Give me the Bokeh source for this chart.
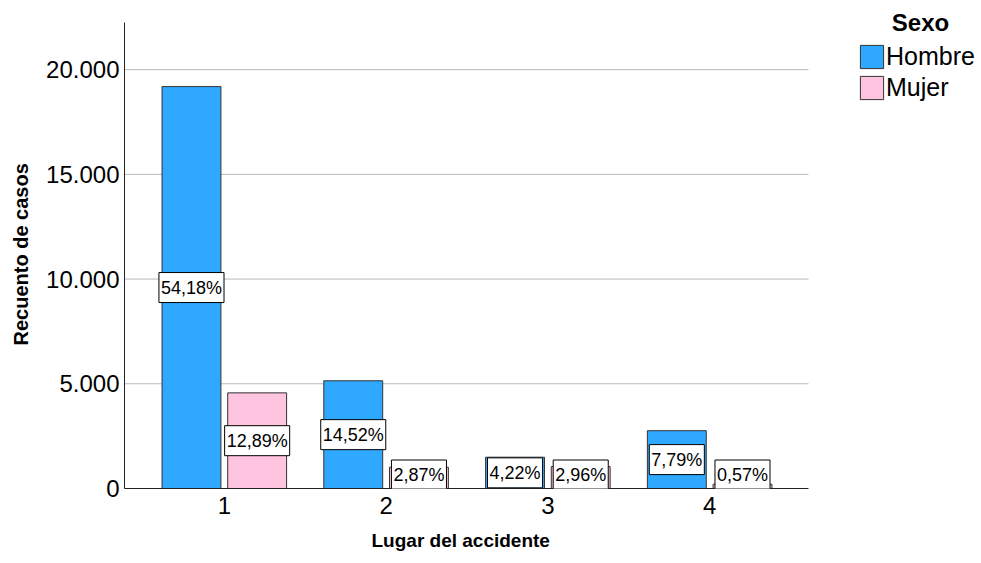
from bokeh.plotting import figure
from bokeh.models import (ColumnDataSource, FixedTicker, Range1d, Legend, LegendItem, Label,
                          Title)
from bokeh.transform import dodge
from bokeh.embed import file_html
from bokeh.resources import INLINE

# ---- data ----
lugares = [1, 2, 3, 4]
hombre = [19190, 5143, 1495, 2759]
mujer = [4566, 1017, 1048, 202]
hombre_pct = ["54,18%", "14,52%", "4,22%", "7,79%"]
mujer_pct = ["12,89%", "2,87%", "2,96%", "0,57%"]
y_ticks = [0, 5000, 10000, 15000, 20000]
y_tick_labels = ["0", "5.000", "10.000", "15.000", "20.000"]
x_tick_labels = ["1", "2", "3", "4"]
series = ["Hombre", "Mujer"]
legend_title = "Sexo"
x_title = "Lugar del accidente"
y_title = "Recuento de casos"

# ---- style / layout ----
FONT = "Liberation Sans"
BLUE = "#2FA9FF"
PINK = "#FFC4E0"
EDGE = "#333333"
GRID = "#b8b8b8"
OFFSET = 0.203
BAR_W = 0.364

W, H = 981, 563
MB_L = 124
FRAME_BOTTOM = 488
MB_B = H - FRAME_BOTTOM
FRAME_W = W - MB_L
FRAME_H = H - MB_B

X_START, X_AXIS_END = 0.383, 4.611
AXIS_PX_W = 684
Y_AXIS_END = 22250
AXIS_PX_H = 466
x_end = X_START + (X_AXIS_END - X_START) * FRAME_W / AXIS_PX_W
y_end = Y_AXIS_END * FRAME_H / AXIS_PX_H

p = figure(width=W, height=H,
           x_range=Range1d(X_START, x_end), y_range=Range1d(0, y_end),
           output_backend="svg", toolbar_location=None,
           min_border_left=MB_L, min_border_right=0,
           min_border_top=0, min_border_bottom=MB_B)
p.outline_line_color = None
p.background_fill_color = "white"
p.border_fill_color = "white"
p.xgrid.visible = False
p.ygrid.visible = False

grid_y = y_ticks[1:]
p.segment(x0=[X_START] * len(grid_y), x1=[X_AXIS_END] * len(grid_y),
          y0=grid_y, y1=grid_y, line_color=GRID, line_width=1)

src = ColumnDataSource(dict(x=lugares, hombre=hombre, mujer=mujer))
r_h = p.vbar(x=dodge("x", -OFFSET, range=p.x_range), top="hombre", width=BAR_W,
             source=src, fill_color=BLUE, line_color=EDGE, line_width=1)
r_m = p.vbar(x=dodge("x", OFFSET, range=p.x_range), top="mujer", width=BAR_W,
             source=src, fill_color=PINK, line_color=EDGE, line_width=1)

# percentage labels
half_box = 13.5 * y_end / FRAME_H


def make_label(**kw):
    try:
        return Label(padding=(2, 5), **kw)
    except Exception:
        return Label(padding=4, **kw)


for vals, pcts, off in ((hombre, hombre_pct, -OFFSET), (mujer, mujer_pct, OFFSET)):
    for xv, v, t in zip(lugares, vals, pcts):
        p.add_layout(make_label(x=xv + off, y=max(v / 2, half_box), text=t,
                                text_align="center", text_baseline="middle",
                                text_font=FONT, text_font_size="18px", text_color="black",
                                background_fill_color="white", border_line_color="black",
                                border_line_width=1))

# axes
p.yaxis.ticker = FixedTicker(ticks=y_ticks)
p.yaxis.major_label_overrides = {t: l for t, l in zip(y_ticks, y_tick_labels)}
p.yaxis.bounds = (0, Y_AXIS_END)
p.xaxis.ticker = FixedTicker(ticks=lugares)
p.xaxis.major_label_overrides = {t: l for t, l in zip(lugares, x_tick_labels)}
p.xaxis.bounds = (X_START, X_AXIS_END)
for ax in (p.xaxis, p.yaxis):
    ax.major_tick_line_color = None
    ax.minor_tick_line_color = None
    ax.major_tick_out = 0
    ax.major_tick_in = 0
    ax.axis_line_color = "#222222"
    ax.axis_line_width = 1
    ax.major_label_text_font = FONT
    ax.major_label_text_font_size = "24px"
    ax.major_label_text_color = "black"
p.xaxis.major_label_standoff = 8
p.yaxis.major_label_standoff = 5

# axis titles (positioned over the chart area, not the whole frame)
p.add_layout(Title(text=x_title, align="left", offset=247, vertical_align="bottom",
                   standoff=23, text_font=FONT, text_font_style="bold",
                   text_font_size="19px", text_color="black"), "below")
p.add_layout(Title(text=y_title, align="left", offset=143, vertical_align="top",
                   standoff=19, text_font=FONT, text_font_style="bold",
                   text_font_size="20px", text_color="black"), "left")

# legend
GLYPH = 29
LEG_LEFT = 857
LEG_TOP = 42
LEG_H = GLYPH * 2 + 2
legend = Legend(items=[LegendItem(label=series[0], renderers=[r_h]),
                       LegendItem(label=series[1], renderers=[r_m])],
                location=(LEG_LEFT - MB_L, FRAME_H - LEG_TOP - LEG_H),
                glyph_width=GLYPH, glyph_height=GLYPH, label_height=GLYPH,
                label_standoff=0, spacing=2, padding=0, margin=0,
                label_text_font=FONT, label_text_font_size="25px",
                label_text_color="black",
                border_line_color=None, background_fill_alpha=0)
p.add_layout(legend, "center")

p.add_layout(Label(x=920 - MB_L, y=FRAME_H - 22, x_units="screen", y_units="screen",
                   text=legend_title, text_align="center", text_baseline="middle",
                   text_font=FONT, text_font_style="bold", text_font_size="24px",
                   text_color="black"))

open("out.html", "w").write(file_html(p, INLINE))
